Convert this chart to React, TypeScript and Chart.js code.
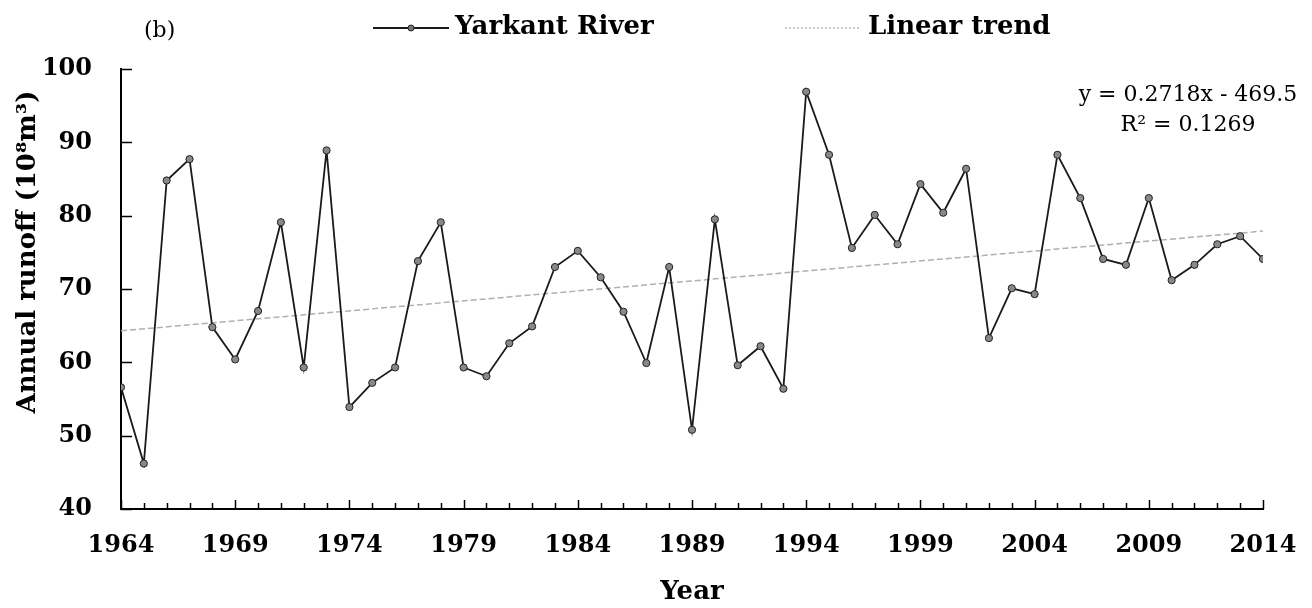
import React, { useEffect, useRef } from "react";
import { Chart, registerables } from "chart.js";

Chart.register(...registerables);

const years = [
  1964, 1965, 1966, 1967, 1968, 1969, 1970, 1971, 1972, 1973,
  1974, 1975, 1976, 1977, 1978, 1979, 1980, 1981, 1982, 1983,
  1984, 1985, 1986, 1987, 1988, 1989, 1990, 1991, 1992, 1993,
  1994, 1995, 1996, 1997, 1998, 1999, 2000, 2001, 2002, 2003,
  2004, 2005, 2006, 2007, 2008, 2009, 2010, 2011, 2012, 2013, 2014,
];
const runoff = [
  56.6, 46.2, 84.8, 87.7, 64.8, 60.4, 67.0, 79.1, 59.3, 88.9,
  53.9, 57.2, 59.3, 73.8, 79.1, 59.3, 58.1, 62.6, 64.9, 73.0,
  75.2, 71.6, 66.9, 59.9, 73.0, 50.8, 79.5, 59.6, 62.2, 56.4,
  96.9, 88.3, 75.6, 80.1, 76.1, 84.3, 80.4, 86.4, 63.3, 70.1,
  69.3, 88.3, 82.4, 74.1, 73.3, 82.4, 71.2, 73.3, 76.1, 77.2, 74.1,
];
const trendYears = [1964, 2014];
const trendValues = [64.3, 77.9];
const xTickYears = [1964, 1969, 1974, 1979, 1984, 1989, 1994, 1999, 2004, 2009, 2014];
const yTickValues = [40, 50, 60, 70, 80, 90, 100];

const seriesLabel = "Yarkant River";
const trendLabel = "Linear trend";
const equationLines = ["y = 0.2718x - 469.5", "R\u00B2 = 0.1269"];
const panelLabel = "(b)";
const yTitle = "Annual runoff (10\u2078m\u00B3)";
const xTitle = "Year";

const SERIF = '"DejaVu Serif", serif';

const decorPlugin = {
  id: "decor",
  afterDraw(chart: any) {
    const ctx = chart.ctx as CanvasRenderingContext2D;
    const xs = chart.scales.x;
    const ys = chart.scales.y;
    const area = chart.chartArea;
    ctx.save();
    // inward tick marks
    ctx.strokeStyle = "#000";
    ctx.lineWidth = 1.5;
    years.forEach((yr) => {
      const px = Math.round(xs.getPixelForValue(yr)) + 0.5;
      const len = xTickYears.includes(yr) ? 9 : 6;
      ctx.beginPath();
      ctx.moveTo(px, area.bottom);
      ctx.lineTo(px, area.bottom - len);
      ctx.stroke();
    });
    yTickValues.forEach((v) => {
      const py = Math.round(ys.getPixelForValue(v)) + 0.5;
      ctx.beginPath();
      ctx.moveTo(area.left, py);
      ctx.lineTo(area.left + 11, py);
      ctx.stroke();
    });

    // panel label
    ctx.fillStyle = "#000";
    ctx.textBaseline = "middle";
    ctx.textAlign = "left";
    ctx.font = `22px ${SERIF}`;
    ctx.fillText(panelLabel, 144, 31);

    // legend: series
    ctx.strokeStyle = "#1a1a1a";
    ctx.lineWidth = 1.8;
    ctx.setLineDash([]);
    ctx.beginPath();
    ctx.moveTo(373, 28);
    ctx.lineTo(449, 28);
    ctx.stroke();
    ctx.beginPath();
    ctx.arc(411, 28, 3, 0, Math.PI * 2);
    ctx.fillStyle = "#777";
    ctx.fill();
    ctx.lineWidth = 1;
    ctx.strokeStyle = "#222";
    ctx.stroke();
    ctx.fillStyle = "#000";
    ctx.font = `bold 26px ${SERIF}`;
    ctx.fillText(seriesLabel, 455, 27);

    // legend: trend
    ctx.strokeStyle = "#b8b8b8";
    ctx.lineWidth = 1.5;
    ctx.setLineDash([2, 2]);
    ctx.beginPath();
    ctx.moveTo(785, 28);
    ctx.lineTo(861, 28);
    ctx.stroke();
    ctx.setLineDash([]);
    ctx.fillText(trendLabel, 868, 27);

    // equation
    ctx.font = `22px ${SERIF}`;
    ctx.textAlign = "center";
    ctx.fillText(equationLines[0], 1188, 95);
    ctx.fillText(equationLines[1], 1188, 125);

    // y title
    ctx.translate(28, 252);
    ctx.rotate(-Math.PI / 2);
    ctx.font = `bold 26px ${SERIF}`;
    ctx.textAlign = "center";
    ctx.fillText(yTitle, 0, 0);
    ctx.restore();
  },
};

export default function App() {
  const canvasRef = useRef<HTMLCanvasElement | null>(null);

  useEffect(() => {
    const canvas = canvasRef.current;
    if (!canvas) return;
    const chart = new Chart(canvas, {
      type: "line",
      data: {
        datasets: [
          {
            label: seriesLabel,
            data: years.map((y, i) => ({ x: y, y: runoff[i] })),
            borderColor: "#1a1a1a",
            borderWidth: 1.8,
            pointRadius: 3.6,
            pointBackgroundColor: "#888",
            pointBorderColor: "#222",
            pointBorderWidth: 1,
            tension: 0,
          },
          {
            label: trendLabel,
            data: trendYears.map((y, i) => ({ x: y, y: trendValues[i] })),
            borderColor: "#b0b0b0",
            borderWidth: 1.5,
            borderDash: [6, 3],
            pointRadius: 0,
            tension: 0,
          },
        ],
      },
      options: {
        animation: false,
        responsive: true,
        maintainAspectRatio: false,
        layout: { padding: { top: 69, right: 49, bottom: 0, left: 0 } },
        plugins: {
          legend: { display: false },
          tooltip: { enabled: false },
        },
        scales: {
          x: {
            type: "linear",
            min: 1964,
            max: 2014,
            afterBuildTicks: (scale: any) => {
              scale.ticks = xTickYears.map((v) => ({ value: v }));
            },
            afterFit: (scale: any) => {
              scale.height = 99;
              scale.paddingLeft = 0;
              scale.paddingRight = 0;
            },
            grid: { display: false, drawTicks: false },
            border: { display: true, color: "#000", width: 2 },
            ticks: {
              autoSkip: false,
              maxRotation: 0,
              padding: 22,
              color: "#000",
              font: { family: SERIF, size: 24, weight: "bold" },
              callback: (v: any) => String(v),
            },
            title: {
              display: true,
              text: xTitle,
              color: "#000",
              font: { family: SERIF, size: 26, weight: "bold" },
              padding: { top: 0, bottom: 0 },
            },
          },
          y: {
            min: 40,
            max: 100,
            afterFit: (scale: any) => {
              scale.width = 121;
              scale.paddingTop = 0;
              scale.paddingBottom = 0;
            },
            afterBuildTicks: (scale: any) => {
              scale.ticks = yTickValues.map((v) => ({ value: v }));
            },
            grid: { display: false, drawTicks: false },
            border: { display: true, color: "#000", width: 2 },
            ticks: {
              padding: 29,
              color: "#000",
              font: { family: SERIF, size: 24, weight: "bold" },
              callback: (v: any) => String(v),
            },
          },
        },
      },
      plugins: [decorPlugin],
    });
    return () => chart.destroy();
  }, []);

  return (
    <div
      style={{
        position: "fixed",
        left: 0,
        top: 0,
        width: 1312,
        height: 608,
        background: "#fff",
      }}
    >
      <canvas ref={canvasRef} />
    </div>
  );
}
